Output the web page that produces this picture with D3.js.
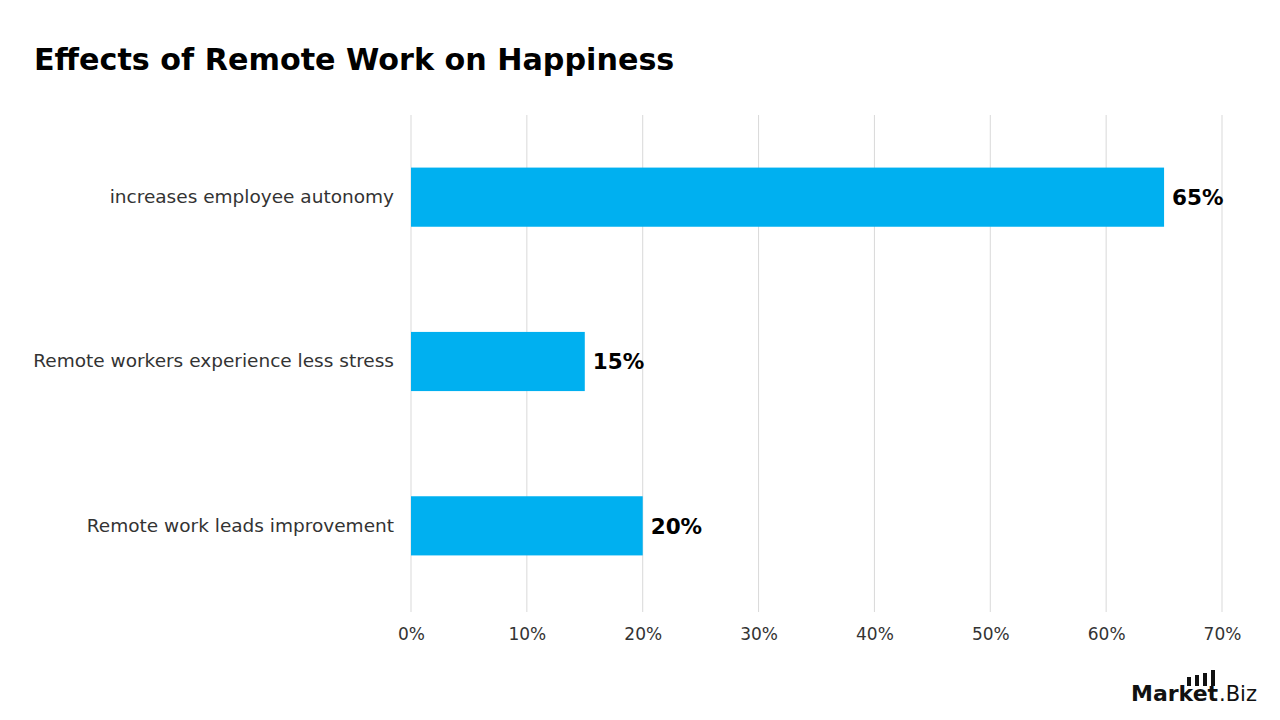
<!DOCTYPE html>
<html><head><meta charset="utf-8">
<script src="https://cdn.jsdelivr.net/npm/d3@7"></script>
<style>
body{margin:0;background:#fff;}
svg{display:block;}
text{font-family:"DejaVu Sans","Open Sans",sans-serif;}
</style></head>
<body><svg id="c" width="1280" height="720"></svg>
<script>
const categories = ["increases employee autonomy","Remote workers experience less stress","Remote work leads improvement"];
const values = [65, 15, 20];
const tickValues = [0,10,20,30,40,50,60,70];
const title = "Effects of Remote Work on Happiness";

const svg = d3.select("#c");
const x = d3.scaleLinear().domain([0,70]).range([411,1222]);
const y = d3.scaleBand().domain(categories).range([115,608]).paddingInner(0.64).paddingOuter(0.32);

svg.append("text").attr("x",34).attr("y",70).attr("font-size",30.2).attr("font-weight",700)
  .attr("fill","#000").text(title);

// gridlines
svg.append("g").selectAll("line").data(tickValues).join("line")
  .attr("x1",d=>x(d)).attr("x2",d=>x(d)).attr("y1",115).attr("y2",612)
  .attr("stroke","#d9d9d9").attr("stroke-width",1);

// x axis labels
const xa = d3.axisBottom(x).tickValues(tickValues).tickFormat(d=>d+"%").tickSize(0).tickPadding(0);
const gx = svg.append("g").attr("transform","translate(0,640)").call(xa);
gx.select(".domain").remove();
gx.selectAll("text").attr("font-size",17).attr("fill","#333").attr("font-family","DejaVu Sans").attr("font-weight",400).attr("dy","0");

// y labels
const ya = d3.axisLeft(y).tickSize(0).tickPadding(17);
const gy = svg.append("g").attr("transform","translate(411,0)").call(ya);
gy.select(".domain").remove();
gy.selectAll("text").attr("font-size",18.5).attr("fill","#333").attr("font-family","DejaVu Sans").attr("font-weight",400);

// bars
svg.append("g").selectAll("rect").data(values).join("rect")
  .attr("x",x(0)).attr("y",(d,i)=>y(categories[i]))
  .attr("width",d=>x(d)-x(0)).attr("height",y.bandwidth()).attr("fill","#00B0F0");

// value labels
svg.append("g").selectAll("text").data(values).join("text")
  .attr("x",d=>x(d)+8).attr("y",(d,i)=>y(categories[i])+y.bandwidth()/2).attr("dy","0.36em")
  .attr("font-size",21.5).attr("font-weight",700).attr("fill","#000").text(d=>d+"%");

// logo
const logo = svg.append("g");
logo.append("text").attr("x",1131).attr("y",701).attr("font-size",22).attr("font-weight",700).attr("fill","#111")
  .text("Market");
logo.append("text").attr("x",1219).attr("y",701).attr("font-size",21).attr("font-weight",400).attr("fill","#111").text(".Biz");
[[1187,677],[1195,675],[1203,673],[1211,670]].forEach(([bx,by])=>{
  logo.append("rect").attr("x",bx).attr("y",by).attr("width",4).attr("height",686-by).attr("fill","#111");
});
</script></body></html>
